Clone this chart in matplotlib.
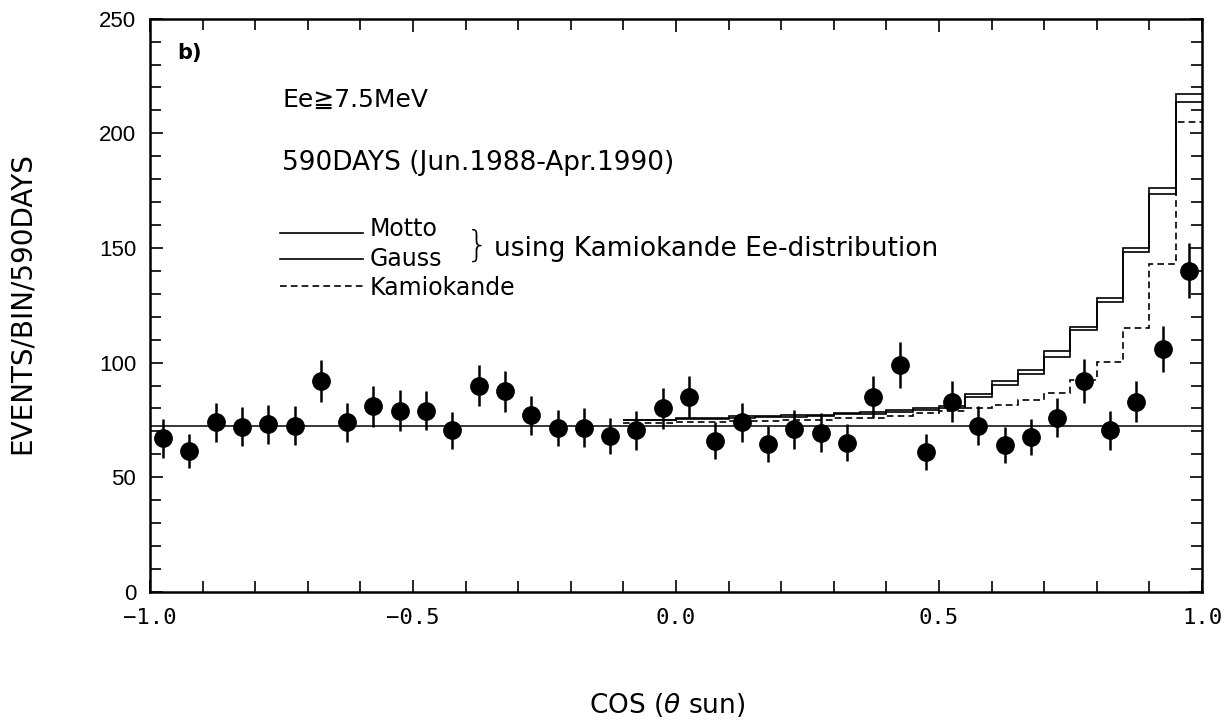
#!/usr/bin/env python3

import numpy as np
import matplotlib
matplotlib.use("Agg")
import matplotlib.pyplot as plt
from matplotlib.ticker import MultipleLocator
from matplotlib.lines import Line2D

plt.rcParams['font.family'] = ['DejaVu Sans', 'Noto Sans CJK JP']

# Observed events per bin (40 bins of width 0.05 in cos(theta sun))
events = [67, 61.5, 74, 72, 73, 72.5, 92, 74, 81, 79,
          79, 70.5, 90, 87.5, 77, 71.5, 71.5, 68, 70.5, 80,
          85, 66, 74, 64.5, 71, 69.5, 65, 85, 99, 61,
          83, 72.5, 64, 67.5, 76, 92, 70.5, 83, 106, 140]
errors = [8.5, 7.5, 8.5, 8.5, 8.5, 8.5, 9, 8.5, 9, 9,
          8.5, 8, 9, 9, 8.5, 8, 8.5, 8, 8.5, 9,
          9, 8, 8.5, 8, 8.5, 8.5, 8, 9, 10, 8,
          9, 8.5, 8, 8, 8.5, 9.5, 8.5, 9, 10, 12]

# Flat (no correlation) level
flat_level = 72.5

# Expectation histograms, bins from -0.1 up to 1.0
model_start = -0.1
motto = [75.0, 75.0, 76.0, 76.0, 76.5, 76.8, 77.0, 77.2, 78.0, 78.3, 79.3,
         80.3, 81.2, 86.1, 92.1, 96.8, 105.1, 115.6, 128.0, 150.1, 176.3, 217.0]
gauss = [74.8, 74.8, 75.6, 75.6, 76.0, 76.2, 76.4, 76.6, 77.4, 77.6, 78.5,
         79.5, 80.0, 84.8, 90.2, 95.0, 102.6, 114.2, 126.6, 148.4, 173.4, 213.5]
kamiokande = [73.5, 73.8, 74.0, 74.2, 74.4, 74.6, 74.8, 75.0, 75.7, 75.9, 76.7,
              77.9, 78.9, 80.0, 81.5, 83.7, 86.6, 92.4, 100.4, 115.0, 143.0, 205.0]

x_ticks = [-1.0, -0.5, 0.0, 0.5, 1.0]
x_ticklabels = ["\u22121.0", "\u22120.5", "0.0", "0.5", "1.0"]

bin_width = 0.05


def main() -> None:
    fig = plt.figure(figsize=(12.29, 7.2), dpi=100)
    ax = fig.add_axes([0.122, 0.178, 0.856, 0.796])

    centers = -1 + bin_width / 2 + bin_width * np.arange(len(events))
    edges = model_start + bin_width * np.arange(len(motto) + 1)

    # flat line
    ax.axhline(flat_level, color='black', lw=1.1)

    # model histograms
    ax.stairs(motto, edges, baseline=None, color='black', lw=1.2)
    ax.stairs(gauss, edges, baseline=None, color='black', lw=1.2)
    ax.stairs(kamiokande, edges, baseline=None, color='black', lw=1.2,
              linestyle=(0, (4, 2.5)))

    # data points
    ax.errorbar(centers, events, yerr=errors, fmt='o', color='black',
                ms=12.5, elinewidth=1.8, capsize=0)

    ax.set_xlim(-1.0, 1.0)
    ax.set_ylim(0, 250)
    ax.xaxis.set_major_locator(MultipleLocator(0.5))
    ax.xaxis.set_minor_locator(MultipleLocator(0.1))
    ax.yaxis.set_major_locator(MultipleLocator(50))
    ax.yaxis.set_minor_locator(MultipleLocator(10))
    ax.tick_params(which='both', direction='in', top=True, right=True,
                   width=1.2)
    ax.tick_params(which='major', length=9, labelsize=15, pad=10)
    ax.tick_params(which='minor', length=8)
    ax.set_xticklabels([])
    ax.set_yticks([0, 50, 100, 150, 200, 250])
    for lab in ax.get_yticklabels():
        lab.set_family('Liberation Sans')
        lab.set_fontsize(16)
    for v, lab in zip(x_ticks, x_ticklabels):
        ax.text(v, -7, lab, ha='center', va='top',
                fontsize=16, family='DejaVu Sans Mono')
    for sp in ax.spines.values():
        sp.set_linewidth(1.8)

    fig.text(0.543, 0.021, "COS ($\\theta$ sun)", ha='center', va='center', fontsize=19)
    fig.text(0.018, 0.579, "EVENTS/BIN/590DAYS", rotation=90, ha='center',
             va='center', fontsize=20)

    # annotations
    ax.text(0.026, 0.93, "b)", transform=ax.transAxes, fontsize=15,
            fontweight='bold')
    ax.text(0.126, 0.859, "Ee\u22677.5MeV", transform=ax.transAxes, fontsize=18,
            va='center')
    ax.text(0.126, 0.749, "590DAYS (Jun.1988-Apr.1990)", transform=ax.transAxes,
            fontsize=19, va='center')

    leg_y = [0.6265, 0.581, 0.534]
    for y, ls in zip(leg_y, ['-', '-', (0, (4, 2.5))]):
        ax.add_line(Line2D([0.124, 0.203], [y, y], transform=ax.transAxes,
                           color='black', lw=1.2, linestyle=ls))
    ax.text(0.209, 0.6335, "Motto", transform=ax.transAxes, fontsize=17,
            va='center')
    ax.text(0.209, 0.580, "Gauss", transform=ax.transAxes, fontsize=17,
            va='center')
    ax.text(0.209, 0.530, "Kamiokande", transform=ax.transAxes, fontsize=17,
            va='center')
    ax.text(0.300, 0.604, "}", transform=ax.transAxes, fontsize=26,
            va='center', fontweight='light')
    ax.text(0.327, 0.598, "using Kamiokande Ee-distribution",
            transform=ax.transAxes, fontsize=19, va='center')

    fig.savefig("out.png", dpi=100)
    plt.close(fig)


if __name__ == "__main__":
    main()
